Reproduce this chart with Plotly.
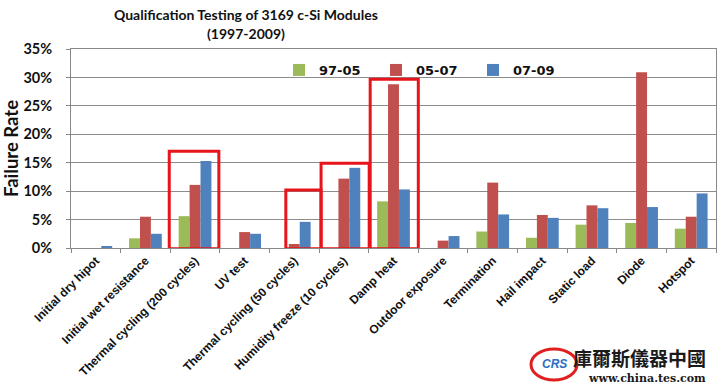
import plotly.graph_objects as go

categories = ["Initial dry hipot", "Initial wet resistance", "Thermal cycling (200 cycles)",
              "UV test", "Thermal cycling (50 cycles)", "Humidity freeze (10 cycles)",
              "Damp heat", "Outdoor exposure", "Termination", "Hail impact",
              "Static load", "Diode", "Hotspot"]
s_97_05 = [0.0, 1.7, 5.6, 0.0, 0.0, 0.0, 8.2, 0.0, 2.9, 1.8, 4.1, 4.4, 3.4]
s_05_07 = [0.0, 5.5, 11.1, 2.8, 0.7, 12.2, 28.8, 1.3, 11.5, 5.8, 7.5, 30.9, 5.5]
s_07_09 = [0.2, 2.5, 15.3, 2.5, 4.6, 14.1, 10.3, 2.1, 5.9, 5.3, 7.0, 7.2, 9.6]
series_names = ["97-05", "05-07", "07-09"]
y_ticks = [0, 5, 10, 15, 20, 25, 30, 35]
y_tick_labels = ["0%", "5%", "10%", "15%", "20%", "25%", "30%", "35%"]

# highlighted boxes: (x0, x1 in category units, top value in %)
highlight_boxes = [(1.48, 2.48, 17.0), (3.83, 4.54, 10.2), (4.54, 5.51, 14.9), (5.53, 6.5, 29.7)]

colors = ["#9BBB59", "#C0504D", "#4F81BD"]

W, H = 720, 390
ML, MR, MT, MB = 71, 4, 49, 142
PW, PH = W - ML - MR, H - MT - MB


def px(x):
    return (x - ML) / PW


def py(y):
    return (H - MB - y) / PH


fig = go.Figure()
for name, vals, c in zip(series_names, [s_97_05, s_05_07, s_07_09], colors):
    fig.add_trace(go.Bar(x=categories, y=vals, name=name, marker=dict(color=c, line=dict(width=0))))

for x0, x1, top in highlight_boxes:
    fig.add_shape(type="rect", xref="x", yref="y", x0=x0, x1=x1, y0=-0.15, y1=top,
                  line=dict(color="#E8141B", width=3), fillcolor="rgba(0,0,0,0)", layer="above")

fig.update_layout(
    width=W, height=H,
    margin=dict(l=ML, r=MR, t=MT, b=MB, autoexpand=False),
    paper_bgcolor="white", plot_bgcolor="white",
    barmode="group", bargap=0.34, bargroupgap=0,
    showlegend=True,
    legend=dict(orientation="h", x=px(279), xanchor="left", y=py(70), yanchor="middle",
                bgcolor="rgba(0,0,0,0)",
                font=dict(family="DejaVu Sans", size=13, color="#111111", weight="bold"),
                entrywidth=52, entrywidthmode="pixels", itemwidth=30),
    xaxis=dict(type="category", tickangle=-45, showline=True, linecolor="#888888", linewidth=1,
               mirror=True, ticks="outside", tickson="boundaries", ticklen=4, tickcolor="#888888",
               tickfont=dict(family="Liberation Sans", size=12, color="#111111"),
               showgrid=False, automargin=False,
               tickvals=categories, ticktext=["<b>%s</b>" % c for c in categories]),
    yaxis=dict(range=[0, 35], tickvals=y_ticks, ticktext=["<b>%s</b>" % t for t in y_tick_labels],
               showline=True, linecolor="#888888", linewidth=1, mirror=True,
               ticks="outside", ticklen=4, tickcolor="#888888", ticklabelstandoff=11,
               gridcolor="#8c8c8c", gridwidth=1, automargin=False,
               tickfont=dict(family="Lato", size=14.5, color="#111111"),
               title=dict(text="<b>Failure Rate</b>", font=dict(family="Lato", size=18.5, color="#111111"), standoff=2)),
)

# title
fig.add_annotation(xref="paper", yref="paper", x=px(246), y=py(15), xanchor="center", yanchor="middle",
                   text="<b>Qualification Testing of 3169 c-Si Modules</b>", showarrow=False,
                   font=dict(family="Lato", size=14, color="#111111"))
fig.add_annotation(xref="paper", yref="paper", x=px(246), y=py(33), xanchor="center", yanchor="middle",
                   text="<b>(1997-2009)</b>", showarrow=False,
                   font=dict(family="Lato", size=14, color="#111111"))

# watermark
fig.add_annotation(xref="paper", yref="paper", x=px(708), y=py(357), xanchor="right", yanchor="middle",
                   text="<b>庫爾斯儀器中國</b>", showarrow=False,
                   font=dict(family="Noto Sans CJK TC", size=19, color="#1a1a1a"))
fig.add_annotation(xref="paper", yref="paper", x=px(708), y=py(378), xanchor="right", yanchor="middle",
                   text="<b>www.china.tes.com</b>", showarrow=False,
                   font=dict(family="DejaVu Serif", size=11, color="#1a1a1a"))
fig.add_shape(type="circle", xref="paper", yref="paper",
              x0=px(531), x1=px(577), y0=py(380), y1=py(349),
              line=dict(color="#E02020", width=3))
fig.add_annotation(xref="paper", yref="paper", x=px(554), y=py(364), xanchor="center", yanchor="middle",
                   text="<b><i>CRS</i></b>", showarrow=False,
                   font=dict(family="Liberation Sans", size=12, color="#2a6fc0"))

fig.write_html("out.html", config={"displayModeBar": False},
               post_script="document.body.style.margin='0';document.body.style.padding='0';")
